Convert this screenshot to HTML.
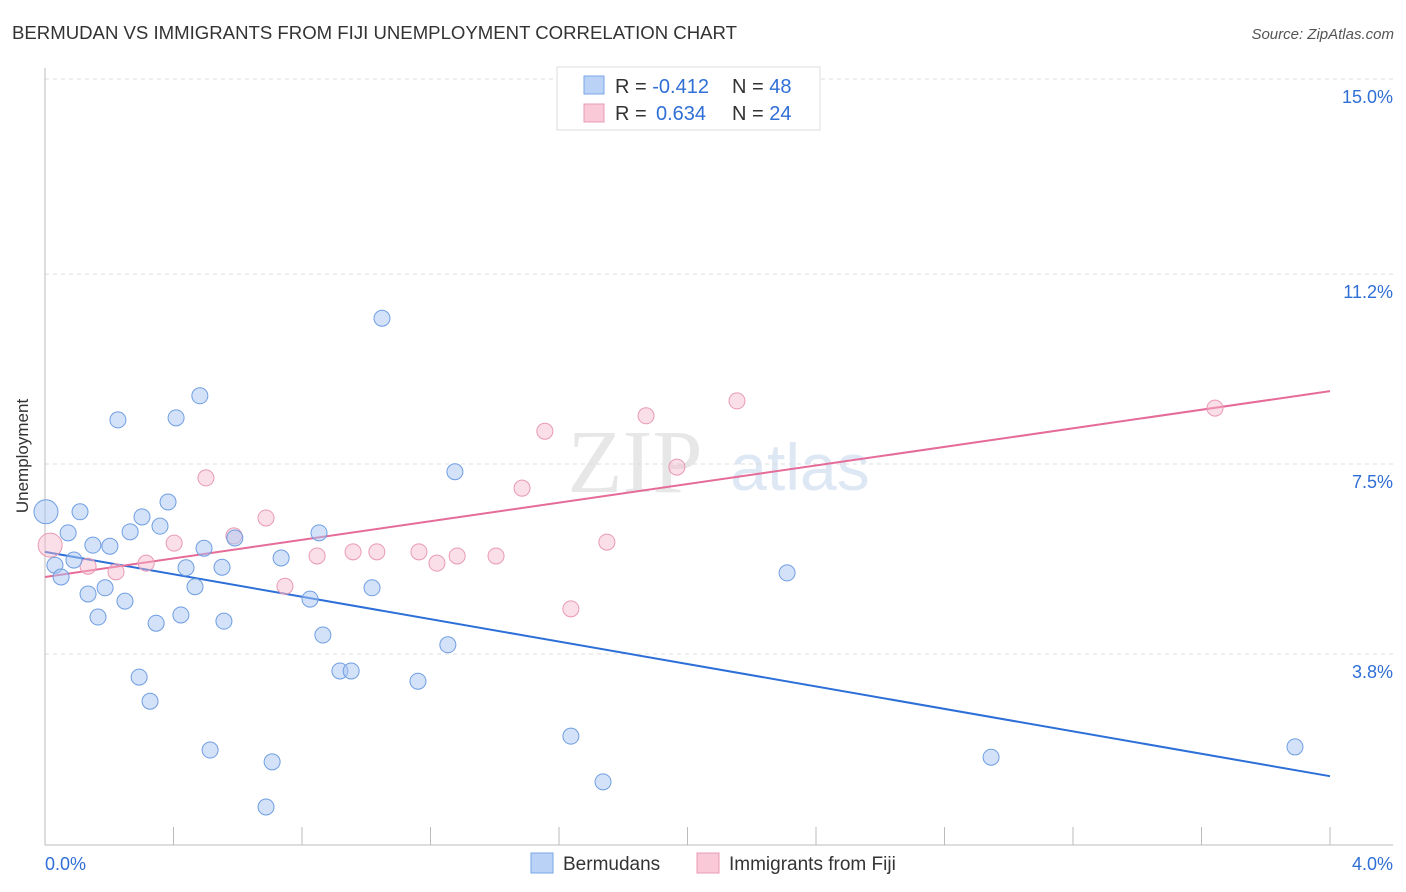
<!DOCTYPE html>
<html><head><meta charset="utf-8"><style>
body{margin:0;background:#fff;font-family:"Liberation Sans",sans-serif;}
svg{display:block}
</style></head><body>
<svg id="chart" width="1406" height="892" font-family="Liberation Sans, sans-serif">
<text x="12" y="39" font-size="18" fill="#333" textLength="725" lengthAdjust="spacingAndGlyphs">BERMUDAN VS IMMIGRANTS FROM FIJI UNEMPLOYMENT CORRELATION CHART</text>
<text x="1394" y="39" font-size="15" fill="#555" text-anchor="end" font-style="italic">Source: ZipAtlas.com</text>
<text x="28" y="456" font-size="17" fill="#333" text-anchor="middle" transform="rotate(-90 28 456)">Unemployment</text>
<g><text x="635" y="492" font-size="90" fill="#ddd" text-anchor="middle" font-family="Liberation Serif, serif" opacity="0.7">ZIP</text><text x="800" y="490" font-size="66" fill="#c9d9f0" text-anchor="middle" opacity="0.6">atlas</text></g>
<g id="grid"></g><g id="axes"></g><g id="lines"></g><g id="pts"></g>
<g>
<rect x="557" y="67" width="263" height="63" fill="#fff" stroke="#ddd"/>
<rect x="584" y="76" width="20" height="18" fill="#b9d2f5" stroke="#7aa6e6"/>
<rect x="584" y="104" width="20" height="18" fill="#f9c9d7" stroke="#e89ab4"/>
<text x="615" y="93" font-size="20" fill="#333">R = <tspan fill="#2f6fd6">-0.412</tspan><tspan x="732">N = </tspan><tspan fill="#2f6fd6">48</tspan></text>
<text x="615" y="120" font-size="20" fill="#333">R = <tspan fill="#2f6fd6" x="656">0.634</tspan><tspan x="732">N = </tspan><tspan fill="#2f6fd6">24</tspan></text>
</g>
<g>
<rect x="531" y="853" width="22" height="20" fill="#b9d2f5" stroke="#7aa6e6"/>
<text x="563" y="870" font-size="19" fill="#333">Bermudans</text>
<rect x="697" y="853" width="22" height="20" fill="#f9c9d7" stroke="#e89ab4"/>
<text x="729" y="870" font-size="19" fill="#333">Immigrants from Fiji</text>
</g>
</svg>
<script>
const blueX=[0.003,0.031,0.05,0.072,0.09,0.109,0.134,0.149,0.165,0.187,0.202,0.227,0.249,0.265,0.293,0.302,0.327,0.346,0.358,0.383,0.408,0.423,0.439,0.467,0.482,0.495,0.514,0.551,0.557,0.591,0.688,0.707,0.735,0.825,0.853,0.865,0.918,0.953,1.018,1.049,1.161,1.254,1.276,1.637,1.737,2.31,2.945,3.891];
const blueY=[6.57,5.53,5.30,6.16,5.63,6.57,4.97,5.92,4.52,5.09,5.90,8.36,4.83,6.18,3.35,6.47,2.88,4.40,6.29,6.76,8.40,4.56,5.48,5.11,8.83,5.86,1.93,5.49,4.44,6.06,0.82,1.70,5.67,4.87,6.16,4.17,3.47,3.47,5.09,10.34,3.27,3.98,7.35,2.20,1.31,5.38,1.79,1.99];
const pinkX=[0.016,0.134,0.221,0.315,0.402,0.501,0.588,0.688,0.747,0.847,0.959,1.033,1.164,1.22,1.283,1.404,1.485,1.556,1.637,1.749,1.871,1.967,2.154,3.642];
const pinkY=[5.92,5.51,5.40,5.57,5.96,7.23,6.10,6.45,5.12,5.71,5.79,5.79,5.79,5.57,5.71,5.71,7.03,8.14,4.68,5.98,8.44,7.44,8.73,8.59];
const blueTrend=[5.79,1.42];
const pinkTrend=[5.30,8.92];
const yTicks=[15.0,11.2,7.5,3.8];
const yTickLabels=["15.0%","11.2%","7.5%","3.8%"];
const xTickCount=10;
const NS="http://www.w3.org/2000/svg";
const X=v=>45+v*321.25, Y=v=>79+(15-v)*51.34;
function mk(t,a,p){const e=document.createElementNS(NS,t);for(const k in a)e.setAttribute(k,a[k]);p.appendChild(e);return e;}
const grid=document.getElementById('grid'),axes=document.getElementById('axes');
yTicks.forEach((t,i)=>{
 const l=mk('line',{x1:45,x2:1393,y1:Y(t),y2:Y(t),stroke:'#ddd','stroke-dasharray':'4,4'},grid);
 
 
 const tx=mk('text',{x:1393,y:Y(t)+24,'font-size':18,fill:'#2f6fd6','text-anchor':'end'},axes);
 tx.textContent=yTickLabels[i];
 
 
});
mk('line',{x1:45,x2:45,y1:68,y2:845,stroke:'#bbb'},axes);
mk('line',{x1:45,x2:1393,y1:845,y2:845,stroke:'#bbb'},axes);
for(let i=0;i<=xTickCount;i++){const x=X(i*0.4);const t=mk('line',{x1:x,x2:x,y1:827,y2:845,stroke:'#bbb'},axes);
 
 }
const a=mk('text',{x:45,y:870,'font-size':18,fill:'#2f6fd6'},axes);a.textContent='0.0%';


const b=mk('text',{x:1393,y:870,'font-size':18,fill:'#2f6fd6','text-anchor':'end'},axes);b.textContent='4.0%';


const lines=document.getElementById('lines'),pts=document.getElementById('pts');
function series(xs,ys,fill,stroke,name){xs.forEach((x,i)=>{const c=mk('circle',{cx:X(x),cy:Y(ys[i]),r:i===0?12:8,fill:fill,stroke:stroke,'stroke-width':1},pts);
 
 });}
series(pinkX,pinkY,'rgba(246,185,205,0.45)','#e89ab4','fiji-point');
series(blueX,blueY,'rgba(168,198,244,0.5)','#6f9ee2','bermudan-point');
const bl=mk('line',{x1:X(0),y1:Y(blueTrend[0]),x2:X(4),y2:Y(blueTrend[1]),stroke:'#2c6fd8','stroke-width':2},lines);


const pl=mk('line',{x1:X(0),y1:Y(pinkTrend[0]),x2:X(4),y2:Y(pinkTrend[1]),stroke:'#e56b98','stroke-width':2},lines);


</script>
</body></html>
